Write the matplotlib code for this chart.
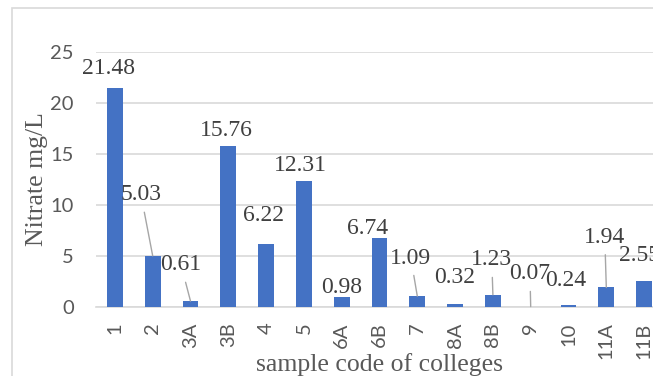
import matplotlib
matplotlib.use('Agg')
import matplotlib.pyplot as plt
from matplotlib.patches import Rectangle
import numpy as np

# ─── Data ─────────────────────────────────────────────────────────────────────
codes = ['1', '2', '3A', '3B', '4', '5', '6A', '6B', '7', '8A', '8B', '9', '10', '11A', '11B']
nitrate = [21.48, 5.03, 0.61, 15.76, 6.22, 12.31, 0.98, 6.74, 1.09, 0.32, 1.23, 0.07, 0.24, 1.94, 2.55]

# label placement (x offset from bar, y in data units) and whether a leader line is drawn
label_dx = [-0.16, -0.31, -0.25, -0.06, -0.06, -0.08, 0.0, -0.31, -0.17, 0.0, -0.03, -0.02, -0.07, -0.04, -0.11]
label_y = [23.4, 11.0, 4.14, 17.34, 8.93, 13.9, 1.89, 7.66, 4.82, 2.87, 4.63, 3.26, 2.67, 6.85, 5.02]
leader = [False, True, True, False, False, False, False, False, True, False, True, True, False, True, False]

BAR = '#4472C4'
GRID = '#D9D9D9'
TXT = '#595959'
SERIF = 'Liberation Serif'
SANS = 'Lato'

W, H = 653, 376
fig = plt.figure(figsize=(W / 100, H / 100), dpi=100)

# chart-area border (cropped on the right and bottom)
fig.patches.append(Rectangle((12 / W, -0.1), 1.2, (H - 8) / H + 0.1, transform=fig.transFigure,
                             fill=False, edgecolor=GRID, linewidth=1.2))

left, right = 96, 663
top, bottom = 51.7, 307.3
ax = fig.add_axes([left / W, (H - bottom) / H, (right - left) / W, (bottom - top) / H])

x = np.arange(len(codes))
ax.bar(x, nitrate, width=0.42, color=BAR, zorder=3)

ax.set_xlim(-0.5, len(codes) - 0.5)
ax.set_ylim(0, 25)
ax.set_yticks([0, 5, 10, 15, 20, 25])
ax.set_xticks(x)
ax.set_xticklabels(codes, rotation=90, va='top', ha='center')
ax.tick_params(axis='x', length=0, pad=11, labelsize=14.5, labelcolor=TXT)
ax.tick_params(axis='y', length=0, pad=16, labelsize=14.5, labelcolor=TXT)
for lab in ax.get_xticklabels() + ax.get_yticklabels():
    lab.set_fontfamily(SANS)

ax.grid(axis='y', color=GRID, linewidth=1.2, zorder=0)
for s in ['top', 'right', 'left']:
    ax.spines[s].set_visible(False)
ax.spines['bottom'].set_color(GRID)
ax.spines['bottom'].set_linewidth(1.2)

for i, v in enumerate(nitrate):
    props = dict(arrowstyle='-', color='#A6A6A6', linewidth=1, shrinkA=3, shrinkB=0) if leader[i] else None
    ax.annotate(f'{v:.2f}', xy=(i, v), xytext=(i + label_dx[i], label_y[i]), textcoords='data',
                ha='center', va='center', fontsize=17, family=SERIF, color='#404040',
                arrowprops=props, annotation_clip=False, zorder=4)

ax.set_ylabel('Nitrate mg/L', fontsize=18.5, family=SERIF, color=TXT)
ax.set_xlabel('sample code of colleges', fontsize=18.5, family=SERIF, color=TXT)
ax.yaxis.set_label_coords(-(96 - 48) / (right - left), 0.5)
ax.xaxis.set_label_coords((380 - left) / (right - left), -(353 - bottom) / (bottom - top))

fig.savefig('out.png', dpi=100)
